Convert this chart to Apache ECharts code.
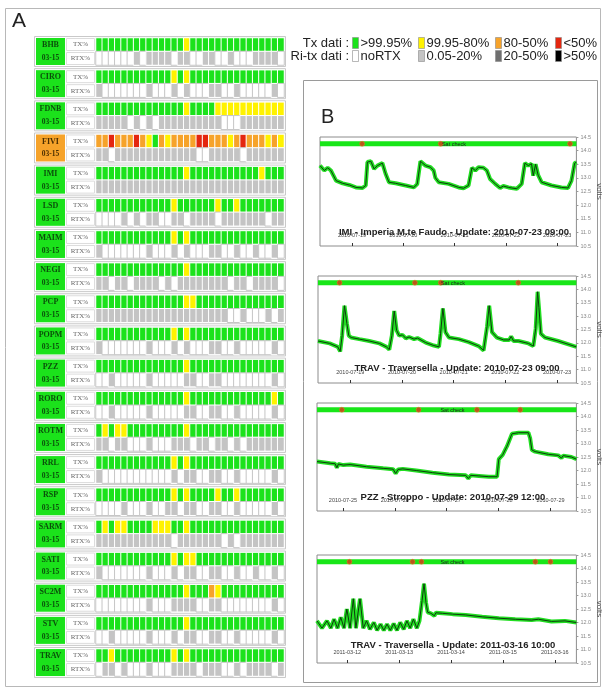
<!DOCTYPE html>
<html>
<head>
<meta charset="utf-8">
<script src="https://cdn.jsdelivr.net/npm/echarts@6/dist/echarts.min.js"></script>
<style>
html,body{margin:0;padding:0;background:#fff}
#c{width:604px;height:688px}
</style>
</head>
<body>
<div id="c"></div>
<script>
// ---------- Panel A: daily transmission / retransmission status ----------
const stations = ['BHB','CIRO','FDNB','FIVI','IMI','LSD','MAIM','NEGI','PCP','POPM',
                  'PZZ','RORO','ROTM','RRL','RSP','SARM','SATI','SC2M','STV','TRAV'];
const period = '03-15';
const days = ['1','2','3','4','5','6','7','8','9','10','11','12','13','14','15',
              '16','17','18','19','20','21','22','23','24','25','26','27','28','29','30'];
// monthly station status: G >99.95%, O 80-50%
const stationStatus = ['G','G','G','O','G','G','G','G','G','G','G','G','G','G','G','G','G','G','G','G'];
// Tx dati per day: G >99.95%, Y 99.95-80%, O 80-50%, R <50%
const txDays = [
  'GGGGGGGGGGGGGGYGGGGGGGGGGGGGGG', // BHB
  'GGGGGGGGGGGGYGYGGGGGGGGGGGGGGG', // CIRO
  'GGGGGGGGGGGGGGYGGGGYYYYYYYYYYY', // FDNB
  'OOROOOROYGOYOOOORROOOYOROOOYOY', // FIVI
  'GGGGGGGGGGGGGGYGGGGGGGGGGGYGGG', // IMI
  'GGGGGGGGGGGGYGGGGGGYGGYGGGGGGG', // LSD
  'GGGGGGGGGGGGYGYGGGGGGGGGGGGGGG', // MAIM
  'GGGGGGGGGGGGGGYGGGGGGGGGGGGGGG', // NEGI
  'GGGGGGGGGGGGGGYYGGGGGGGGGGGGGG', // PCP
  'GGGGGGGGGGGGYGYGGGGGGGGGGGGGGG', // POPM
  'GGGGGGGGGGGGGGYGGGGGGGGGGGGGGG', // PZZ
  'GGGGGGGGGGGGGGYGGGGGGGGGGGGGYG', // RORO
  'GYGYYGGGGGGGGGYGGGGGGGGGGGGGGG', // ROTM
  'GGGGGGGGGGGGYGYGGGGGGGGGGGGGGG', // RRL
  'GGGGGGGGGGGGYGYGGGGYGGYGGGGGGG', // RSP
  'GYGYYGGGGYYYGGYGGGGGGGGGGGGGGG', // SARM
  'GGGGGGGGGGGGYGYYGGGGGGGGGGGGGG', // SATI
  'GGGGGGGGGGGGGGYGGGOYGGGGGGGGGG', // SC2M
  'GGGGGGGGGGGGGGYGGGGGGGGGGGGGGG', // STV
  'GGYGGGGGGGGGYGYGGGGGGGGGGGGGGG'  // TRAV
];
// Ri-tx dati per day: W noRTX, L 0.05-20%, D 20-50%, B >50%
const rtxDays = [
  'WWWWWWLWLLLLWLLWWLLWWLWWWLLLLW', // BHB
  'LWWWWWWWLWWWLWLWWWLLWWLWWWWWLW', // CIRO
  'LLLLLWLWLWLLLLLLLLLLWWWLLLLLLL', // FDNB
  'LLWLLLLLLLLLLLLLWWLLLLLWLLLLLL', // FIVI
  'LLLLLLLLLLLLLLLLLLLLLLLLLLLLLL', // IMI
  'WWWWLWLWLLWWLLWLLLLWLLLLLLLWLL', // LSD
  'LWWWWWWWLWWWLWLWWWLLWWLWWLWWLW', // MAIM
  'LLWLLWLLLLWLWLLLLLLLLWLLWLLLLW', // NEGI
  'LLLLLLLLLLLLLLLLLLLLLWWLWWWLWL', // PCP
  'LWWWWWWWLWWWLWLWWWLLWWLWWWWWLW', // POPM
  'WWLWWWWWLWWWWWLLWWLLWWWWWWWWLW', // PZZ
  'WWLWWWWWLWWWWWLLWWLLWWLWWWWWLW', // RORO
  'LLWLLWWWLWWWLLLWLLWLLWLWLLLLLL', // ROTM
  'LWWWWWWWWWWWLWLLWWLLWWLWWWWWLW', // RRL
  'WWWWLWWWLWWLLWLLWWLLWWLWWWWWLW', // RSP
  'LLLLLLLLLLLLWLLLLLLLWLWLLLLLLL', // SARM
  'LWWWWWWWLWWWLWLLWWLLWWLWWLWWLW', // SATI
  'WWWWWWWWLWWWLLLLWWLLWWWWWWWWLW', // SC2M
  'WWLWWWWWLWWWLWLLWWLLWWLWWWWWLW', // STV
  'WLLWLWWWLWWWLLLLWLLLWWLWLLLLWL'  // TRAV
];
const txClasses = ['>99.95%', '99.95-80%', '80-50%', '<50%'];
const rtxClasses = ['noRTX', '0.05-20%', '20-50%', '>50%'];

// ---------- Panel B: battery voltage, [hours from start, volts] ----------
const chartTitles = [
  'IMI - Imperia M.te Faudo - Update: 2010-07-23 09:00',
  'TRAV - Traversella - Update: 2010-07-23 09:00',
  'PZZ - Stroppo - Update: 2010-07-29 12:00',
  'TRAV - Traversella - Update: 2011-03-16 10:00'
];
const chartStarts = [[2010,7,18,9],[2010,7,18,9],[2010,7,24,12],[2011,3,11,10]];
const chartSpanHours = [120, 120, 120, 120];
const imiVolts = [
  [0,13.45],[2.0,13.27],[3.6,13.37],[5.1,13.27],[7.5,12.9],[10.6,12.8],[13.7,12.74],[16.8,12.65],
  [19.9,12.63],[21.4,12.72],[22.2,13.58],[23.8,13.61],[25.3,13.33],[26.9,13.45],[29.2,13.54],
  [30.7,13.15],[32.3,12.84],[35.4,12.8],[40.1,12.72],[43.9,12.65],[45.5,12.77],[47.0,13.61],
  [49.4,13.45],[51.7,13.39],[53.2,13.27],[54.0,13.0],[55.6,12.84],[60.2,12.78],[64.9,12.65],
  [67.2,12.62],[69.5,12.72],[71.1,13.37],[72.7,13.27],[74.2,13.39],[76.5,13.37],[78.1,13.27],
  [79.6,12.96],[82.0,12.78],[84.3,12.63],[85.8,12.7],[88.2,12.65],[89.7,12.63],[92.1,12.6],
  [94.4,12.78],[95.9,13.54],[97.5,13.45],[99.0,13.52],[99.8,13.08],[100.9,13.5],[102.1,13.1],
  [103.7,12.84],[108.4,12.72],[113.0,12.65],[116.1,12.63],[117.7,12.9],[119.2,13.54],[120,13.58]
];
const travJulVolts = [
  [0,12.07],[5.4,11.98],[9.2,11.85],[10.3,11.68],[11.2,12.27],[12.3,13.39],[13.4,12.73],
  [14.3,12.27],[15.4,12.2],[19.2,12.14],[23.8,12.07],[28.5,11.98],[31.8,11.85],[33.1,11.75],
  [34.3,12.27],[35.4,13.19],[36.5,12.47],[37.7,12.27],[39.2,12.3],[40.8,12.17],[42.3,12.22],
  [44.6,12.14],[46.2,12.18],[50.0,12.01],[53.8,11.9],[56.2,11.85],[56.9,12.34],[58.0,13.29],
  [59.2,12.4],[60.8,12.2],[65.4,12.14],[70.0,12.03],[74.6,11.88],[76.9,11.72],[78.5,12.6],
  [79.5,13.39],[80.8,12.4],[83.1,12.2],[86.2,12.11],[88.8,12.11],[89.7,12.24],[90.8,12.07],
  [93.1,12.07],[97.7,11.98],[100.0,11.88],[101.1,12.53],[102.0,13.91],[102.6,13.32],
  [103.5,12.34],[105.4,12.2],[111.5,12.07],[120,11.85]
];
const pzzVolts = [
  [0,12.33],[6.1,12.27],[8.4,12.25],[9.2,12.1],[9.9,12.24],[12.2,12.2],[15.3,12.22],[22.9,12.14],
  [30.6,12.08],[35.2,12.05],[36.4,11.89],[37.5,12.04],[39.7,12.06],[45.9,12.0],[53.5,11.92],
  [61.1,11.85],[68.8,11.82],[70.0,11.7],[71.1,11.82],[74.9,11.8],[79.5,11.77],[83.3,11.77],
  [84.1,12.42],[85.9,12.58],[87.9,12.9],[90.2,13.36],[93.3,13.4],[97.8,13.4],[98.6,13.2],
  [99.4,12.76],[100.9,12.7],[107.0,12.6],[111.6,12.56],[113.1,12.46],[113.9,12.55],[117.7,12.5],
  [120,12.42]
];
const travMarVolts = [
  [0,12.06],[2.3,11.79],[4.6,12.06],[6.4,11.79],[7.9,12.12],[9.5,11.79],[11.0,12.19],[12.5,11.79],
  [13.8,12.5],[15.3,11.79],[16.8,12.88],[18.0,11.79],[19.9,12.88],[21.4,11.79],[22.9,12.06],
  [24.5,11.75],[26.3,12.0],[27.8,11.71],[29.4,11.94],[30.9,11.71],[32.4,11.94],[33.9,11.71],
  [35.5,11.96],[37.0,11.71],[38.5,12.0],[40.1,11.75],[41.6,12.06],[43.1,11.79],[44.6,12.12],
  [46.2,11.79],[47.4,12.06],[48.6,12.81],[49.5,13.44],[50.4,12.75],[51.2,12.38],[52.7,12.34],
  [54.3,12.25],[55.0,12.36],[58.1,12.34],[62.7,12.31],[68.8,12.28],[76.4,12.21],[84.1,12.16],
  [91.7,12.12],[99.3,12.09],[102.4,12.12],[108.5,12.04],[114.7,12.06],[120,12.0]
];
const voltSeries = [imiVolts, travJulVolts, pzzVolts, travMarVolts];
// satellite check failures, hours from start
const satFailHours = [
  [19.7, 56.5, 117.0],
  [10.0, 45.0, 57.0, 93.0],
  [11.5, 47.0, 74.0, 94.0],
  [15.0, 44.2, 48.3, 101.0, 108.0]
];
const satLevel = 14.25;

// ---------- styles ----------
const txColor = {G:'#1be21b', Y:'#fff200', O:'#f6a32a', R:'#e4260f'};
const rtxColor = {W:'#ffffff', L:'#c4c4c4', D:'#6f6f6f', B:'#000000'};
const statusColor = {G:'#1be21b', O:'#f6a32a'};
const serif = '"Liberation Serif","DejaVu Serif",serif';
const sans = '"Liberation Sans",Arial,sans-serif';

const grids = [], xAxes = [], yAxes = [], series = [], titles = [], graphics = [];

// frames
graphics.push({type:'rect', shape:{x:5.5, y:8.5, width:595, height:678}, style:{fill:'none', stroke:'#b8b8b8', lineWidth:1}});
graphics.push({type:'rect', shape:{x:303.5, y:80.5, width:294, height:602}, style:{fill:'none', stroke:'#9a9a9a', lineWidth:1}});
graphics.push({type:'text', left:12, top:11, style:{text:'A', font:'21px ' + sans, fill:'#222'}});
graphics.push({type:'text', left:321, top:107, style:{text:'B', font:'20px ' + sans, fill:'#222'}});

// legend
const legendCols = [352, 418, 495, 555];
const legendRows = [
  {label:'Tx dati :', y:43, classes:txClasses, colors:['G','Y','O','R'].map(k => txColor[k])},
  {label:'Ri-tx dati :', y:56, classes:rtxClasses, colors:['W','L','D','B'].map(k => rtxColor[k])}
];
legendRows.forEach(row => {
  graphics.push({type:'text', x:349, y:row.y, style:{text:row.label, font:'13px ' + sans, fill:'#222', textAlign:'right', textVerticalAlign:'middle'}});
  row.classes.forEach((cls, k) => {
    graphics.push({type:'rect', shape:{x:legendCols[k] + 0.5, y:row.y - 5.5, width:6, height:11},
      style:{fill:row.colors[k], stroke:'#8a8a8a', lineWidth:0.6}});
    graphics.push({type:'text', x:legendCols[k] + 8.5, y:row.y, style:{text:cls, font:'13px ' + sans, fill:'#222', textVerticalAlign:'middle'}});
  });
});

// station blocks
stations.forEach((name, i) => {
  const top = 37 + i * 32.16;
  graphics.push({type:'rect', shape:{x:34.5, y:top - 0.5, width:251, height:30}, style:{fill:'#fff', stroke:'#c9c9c9', lineWidth:1}});
  graphics.push({type:'rect', shape:{x:36, y:top + 1, width:29, height:27}, style:{fill:statusColor[stationStatus[i]]}});
  const ink = stationStatus[i] === 'O' ? '#4a2e00' : '#0b4f0b';
  graphics.push({type:'text', x:50.5, y:top + 8, style:{text:name, font:'bold 8px ' + serif, fill:ink, textAlign:'center', textVerticalAlign:'middle'}});
  graphics.push({type:'text', x:50.5, y:top + 21, style:{text:period, font:'bold 7.5px ' + serif, fill:ink, textAlign:'center', textVerticalAlign:'middle'}});
  graphics.push({type:'rect', shape:{x:66.5, y:top + 1.5, width:28, height:12}, style:{fill:'#fff', stroke:'#dcdcdc', lineWidth:1}});
  graphics.push({type:'rect', shape:{x:66.5, y:top + 15.5, width:28, height:12}, style:{fill:'#fff', stroke:'#dcdcdc', lineWidth:1}});
  graphics.push({type:'text', x:80.5, y:top + 7.5, style:{text:'TX%', font:'7px ' + serif, fill:'#666', textAlign:'center', textVerticalAlign:'middle'}});
  graphics.push({type:'text', x:80.5, y:top + 21.5, style:{text:'RTX%', font:'7px ' + serif, fill:'#666', textAlign:'center', textVerticalAlign:'middle'}});

  grids.push({left:96, top:top + 1, width:188, height:27});
  xAxes.push({type:'category', gridIndex:i, data:days, show:false});
  yAxes.push({type:'category', gridIndex:i, data:['TX%', 'RTX%'], inverse:true, show:false});
  const cells = [];
  [txDays[i], rtxDays[i]].forEach((row, r) => {
    for (let d = 0; d < days.length; d++) {
      const code = row[d];
      const color = r === 0 ? txColor[code] : rtxColor[code];
      cells.push({value:[d, r, r * 4 + 'GYORWLDB'.indexOf(code) % 4],
        itemStyle:{color, borderColor:(r === 1 && code === 'W') ? '#c6c6c6' : '#ffffff', borderWidth:1}});
    }
  });
  series.push({type:'heatmap', name:name, xAxisIndex:i, yAxisIndex:i, data:cells, silent:true});
});

// voltage charts
const voltGrids = [
  {left:320, top:137, width:258, height:109, titleX:449, titleY:222},
  {left:318, top:276, width:260, height:107, titleX:452, titleY:358},
  {left:317, top:403, width:261, height:108, titleX:448, titleY:487},
  {left:317, top:555, width:261, height:108, titleX:448, titleY:635}
];
const HOUR = 3600 * 1000, DAY = 24 * HOUR;
voltGrids.forEach((g, k) => {
  const idx = stations.length + k;
  const s = chartStarts[k];
  const t0 = Date.UTC(s[0], s[1] - 1, s[2], s[3]);
  const t1 = t0 + chartSpanHours[k] * HOUR;
  grids.push({left:g.left, top:g.top, width:g.width, height:g.height, show:true, borderColor:'#8c8c8c', borderWidth:1, backgroundColor:'#fff'});
  xAxes.push({type:'time', gridIndex:idx, min:t0, max:t1, splitNumber:5, minInterval:DAY, maxInterval:DAY,
    axisLine:{show:false},
    axisTick:{show:true, inside:true, length:3, lineStyle:{color:'#333'}},
    axisLabel:{inside:true, margin:8, fontSize:5.5, color:'#444', formatter:'{yyyy}-{MM}-{dd}', hideOverlap:false},
    splitLine:{show:false}});
  yAxes.push({type:'value', gridIndex:idx, position:'right', min:10.5, max:14.5, interval:0.5,
    axisLine:{show:false},
    axisTick:{show:true, length:2, lineStyle:{color:'#999'}},
    axisLabel:{fontSize:5.5, color:'#8a8a8a', margin:4, formatter:v => v.toFixed(1)},
    splitLine:{show:false},
    name:'volts', nameLocation:'middle', nameGap:15, nameRotate:-90,
    nameTextStyle:{fontSize:8, color:'#555', fontFamily:sans}});
  const pts = voltSeries[k].map(p => [t0 + p[0] * HOUR, p[1]]);
  series.push({type:'line', xAxisIndex:idx, yAxisIndex:idx, data:[[t0, satLevel], [t1, satLevel]],
    symbol:'none', lineStyle:{color:'#18e618', width:5}, silent:true, z:3});
  series.push({type:'scatter', xAxisIndex:idx, yAxisIndex:idx,
    data:satFailHours[k].map(h => [t0 + h * HOUR, satLevel]),
    symbolSize:5, itemStyle:{color:'#e0341c', borderColor:'#f07a2a', borderWidth:0.6}, silent:true, z:4});
  series.push({type:'line', xAxisIndex:idx, yAxisIndex:idx, data:pts, symbol:'none',
    lineStyle:{color:'#22dd22', width:4}, silent:true, z:3});
  series.push({type:'line', xAxisIndex:idx, yAxisIndex:idx, data:pts, symbol:'none',
    lineStyle:{color:'#0e3a0e', width:1}, silent:true, z:4});
  titles.push({text:chartTitles[k], left:g.titleX, top:g.titleY, textAlign:'center',
    textStyle:{fontSize:9.5, fontWeight:'bold', color:'#222', fontFamily:sans}});
  titles.push({text:'Sat check', left:g.left + g.width / 2, top:g.top - 1, textAlign:'center',
    textStyle:{fontSize:5.5, fontWeight:'normal', color:'#222', fontFamily:sans}});
});

const chart = echarts.init(document.getElementById('c'), null, {renderer:'canvas'});
chart.setOption({
  useUTC:true,
  animation:false,
  backgroundColor:'#ffffff',
  title:titles,
  grid:grids,
  xAxis:xAxes,
  yAxis:yAxes,
  series:series,
  graphic:graphics
});
</script>
</body>
</html>
